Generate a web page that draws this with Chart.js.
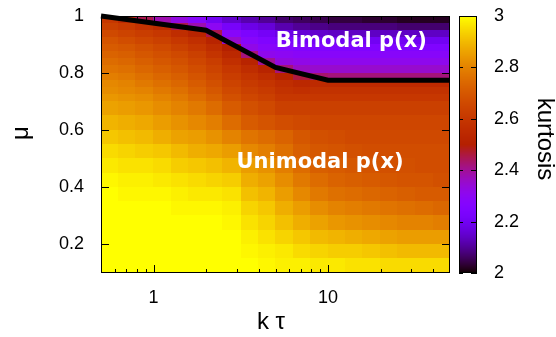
<!DOCTYPE html>
<html>
<head>
<meta charset="utf-8">
<script src="https://cdn.jsdelivr.net/npm/chart.js@4.4.1/dist/chart.umd.min.js"></script>
<style>
  html, body { margin: 0; padding: 0; background: #fff; }
</style>
</head>
<body>
<canvas id="kurtChart" width="556" height="337"></canvas>
<script>
// ----- data -----
// k*tau bin edges (log spaced, 20 columns)
const ktauEdges = [0.5, 0.63, 0.79, 1.0, 1.26, 1.58, 2.0, 2.5, 3.2, 4.0, 5.0,
                   6.3, 7.9, 10, 12.6, 15.8, 20, 25, 31.6, 40, 50];
// mu bin edges, top row first (24 rows)
const muEdges = [1.0, 0.975, 0.95, 0.925, 0.9, 0.875, 0.85, 0.825, 0.8, 0.775, 0.75,
                 0.725, 0.7, 0.65, 0.6, 0.55, 0.5, 0.45, 0.4, 0.35, 0.3, 0.25, 0.2, 0.15, 0.1];
// kurtosis, one row per mu bin (top first), one value per k*tau bin
const kurtosis = [
  [2.60, 2.55, 2.45, 2.38, 2.33, 2.28, 2.20, 2.15, 2.12, 2.10, 2.07, 2.06, 2.05, 2.04, 2.04, 2.03, 2.03, 2.02, 2.02, 2.02],
  [2.63, 2.61, 2.58, 2.55, 2.45, 2.38, 2.30, 2.22, 2.18, 2.16, 2.12, 2.10, 2.09, 2.08, 2.08, 2.08, 2.08, 2.07, 2.07, 2.07],
  [2.66, 2.64, 2.62, 2.60, 2.56, 2.52, 2.45, 2.28, 2.24, 2.21, 2.18, 2.16, 2.15, 2.14, 2.14, 2.14, 2.14, 2.14, 2.14, 2.14],
  [2.69, 2.67, 2.65, 2.63, 2.60, 2.57, 2.52, 2.35, 2.28, 2.25, 2.23, 2.21, 2.21, 2.20, 2.20, 2.20, 2.20, 2.20, 2.20, 2.20],
  [2.71, 2.70, 2.68, 2.66, 2.63, 2.60, 2.56, 2.50, 2.32, 2.28, 2.27, 2.26, 2.25, 2.25, 2.25, 2.25, 2.25, 2.25, 2.25, 2.25],
  [2.73, 2.72, 2.70, 2.68, 2.66, 2.63, 2.59, 2.54, 2.42, 2.31, 2.30, 2.29, 2.28, 2.28, 2.28, 2.28, 2.28, 2.28, 2.28, 2.28],
  [2.75, 2.74, 2.72, 2.70, 2.68, 2.65, 2.62, 2.57, 2.52, 2.40, 2.33, 2.32, 2.31, 2.31, 2.31, 2.31, 2.31, 2.31, 2.31, 2.31],
  [2.77, 2.76, 2.74, 2.72, 2.70, 2.67, 2.64, 2.60, 2.56, 2.52, 2.42, 2.36, 2.35, 2.35, 2.35, 2.35, 2.35, 2.35, 2.35, 2.35],
  [2.79, 2.78, 2.76, 2.74, 2.72, 2.69, 2.66, 2.62, 2.59, 2.56, 2.52, 2.46, 2.43, 2.42, 2.42, 2.42, 2.42, 2.42, 2.42, 2.42],
  [2.81, 2.80, 2.78, 2.76, 2.74, 2.71, 2.68, 2.64, 2.61, 2.59, 2.56, 2.54, 2.55, 2.55, 2.55, 2.55, 2.55, 2.55, 2.55, 2.55],
  [2.82, 2.81, 2.80, 2.78, 2.76, 2.73, 2.70, 2.66, 2.63, 2.61, 2.58, 2.57, 2.58, 2.58, 2.58, 2.58, 2.58, 2.58, 2.58, 2.58],
  [2.84, 2.83, 2.82, 2.80, 2.78, 2.75, 2.72, 2.68, 2.65, 2.63, 2.60, 2.60, 2.60, 2.60, 2.60, 2.60, 2.60, 2.60, 2.60, 2.60],
  [2.86, 2.85, 2.84, 2.82, 2.80, 2.78, 2.75, 2.71, 2.68, 2.66, 2.63, 2.63, 2.63, 2.63, 2.63, 2.63, 2.63, 2.63, 2.63, 2.63],
  [2.89, 2.88, 2.87, 2.85, 2.83, 2.81, 2.79, 2.75, 2.71, 2.69, 2.67, 2.66, 2.65, 2.65, 2.65, 2.65, 2.65, 2.65, 2.65, 2.65],
  [2.92, 2.91, 2.90, 2.88, 2.86, 2.85, 2.83, 2.80, 2.77, 2.75, 2.73, 2.70, 2.68, 2.67, 2.66, 2.66, 2.66, 2.66, 2.66, 2.66],
  [2.95, 2.94, 2.93, 2.92, 2.90, 2.88, 2.87, 2.85, 2.81, 2.79, 2.76, 2.72, 2.70, 2.69, 2.68, 2.67, 2.67, 2.67, 2.67, 2.67],
  [2.97, 2.96, 2.96, 2.95, 2.93, 2.92, 2.91, 2.89, 2.85, 2.83, 2.79, 2.75, 2.72, 2.71, 2.70, 2.69, 2.68, 2.68, 2.67, 2.67],
  [2.99, 2.98, 2.98, 2.97, 2.96, 2.95, 2.94, 2.93, 2.88, 2.86, 2.82, 2.78, 2.75, 2.73, 2.72, 2.71, 2.70, 2.69, 2.69, 2.68],
  [3.00, 2.99, 2.99, 2.99, 2.98, 2.97, 2.97, 2.96, 2.91, 2.89, 2.85, 2.81, 2.78, 2.76, 2.75, 2.74, 2.73, 2.72, 2.71, 2.71],
  [3.00, 3.00, 3.00, 3.00, 2.99, 2.99, 2.99, 2.98, 2.94, 2.92, 2.88, 2.85, 2.82, 2.80, 2.79, 2.78, 2.77, 2.76, 2.75, 2.74],
  [3.00, 3.00, 3.00, 3.00, 3.00, 3.00, 3.00, 2.99, 2.96, 2.94, 2.91, 2.88, 2.86, 2.84, 2.83, 2.82, 2.81, 2.80, 2.80, 2.79],
  [3.00, 3.00, 3.00, 3.00, 3.00, 3.00, 3.00, 3.00, 2.98, 2.96, 2.94, 2.92, 2.90, 2.89, 2.88, 2.87, 2.86, 2.85, 2.85, 2.85],
  [3.00, 3.00, 3.00, 3.00, 3.00, 3.00, 3.00, 3.00, 2.99, 2.98, 2.97, 2.95, 2.94, 2.93, 2.93, 2.92, 2.91, 2.90, 2.90, 2.90],
  [3.00, 3.00, 3.00, 3.00, 3.00, 3.00, 3.00, 3.00, 3.00, 2.99, 2.98, 2.98, 2.97, 2.97, 2.96, 2.96, 2.95, 2.95, 2.95, 2.95]
];

// bimodal / unimodal boundary
const boundaryKtau = [0.5, 2, 5, 10, 50];
const boundaryMu = [1.0, 0.95, 0.82, 0.775, 0.775];

// ticks
const xMajorTicks = [1, 10];
const xMinorTicks = [0.6, 0.7, 0.8, 0.9, 2, 3, 4, 5, 6, 7, 8, 9, 20, 30, 40];
const yTicks = [0.2, 0.4, 0.6, 0.8, 1];
const cbTicks = [2, 2.2, 2.4, 2.6, 2.8, 3];

// region labels (data coords)
const regionText = ["Bimodal p(x)", "Unimodal p(x)"];
const regionKtau = [13.6, 9.0];
const regionMu = [0.91, 0.486];

const TICK_FONT = { family: "Liberation Sans", size: 18 };
const TITLE_FONT = '24px "Liberation Sans"';

// gnuplot rgbformulae 7,5,15 (black-blue-violet-yellow)
function paletteColor(v) {
  let t = (v - 2) / (3 - 2);
  t = Math.max(0, Math.min(1, t));
  const r = Math.sqrt(t);
  const g = t * t * t;
  const b = Math.max(0, Math.sin(2 * Math.PI * t));
  return `rgb(${Math.round(r * 255)},${Math.round(g * 255)},${Math.round(b * 255)})`;
}

function fmt(v) {
  return Number.isInteger(v) ? String(v) : v.toFixed(1);
}

// keep the plot box fixed: no extra padding from tick labels
function fixBox(s, size) {
  if (s.isHorizontal()) s.height = size; else s.width = size;
  s.paddingTop = 0;
  s.paddingBottom = 0;
  s.paddingLeft = 0;
  s.paddingRight = 0;
}

// heatmap cells, drawn under the boundary line
const heatmapPlugin = {
  id: "heatmap",
  beforeDatasetsDraw(chart) {
    const { ctx, chartArea: a, scales: { x, y } } = chart;
    ctx.save();
    ctx.beginPath();
    ctx.rect(a.left, a.top, a.right - a.left, a.bottom - a.top);
    ctx.clip();
    for (let i = 0; i < kurtosis.length; i++) {
      const yTop = y.getPixelForValue(muEdges[i]);
      const yBot = y.getPixelForValue(muEdges[i + 1]);
      for (let j = 0; j < kurtosis[i].length; j++) {
        const xl = x.getPixelForValue(ktauEdges[j]);
        const xr = x.getPixelForValue(ktauEdges[j + 1]);
        ctx.fillStyle = paletteColor(kurtosis[i][j]);
        ctx.fillRect(Math.floor(xl), Math.floor(yTop),
                     Math.ceil(xr) - Math.floor(xl) + 1, Math.ceil(yBot) - Math.floor(yTop) + 1);
      }
    }
    ctx.restore();
  }
};

// frame, inward ticks, colorbar, labels, axis titles
const framePlugin = {
  id: "frame",
  afterDatasetsDraw(chart) {
    const { ctx, chartArea: a, scales: { x, y, cb } } = chart;
    ctx.save();

    // region labels
    ctx.fillStyle = "#fff";
    ctx.font = 'bold 21px "DejaVu Sans"';
    ctx.textAlign = "center";
    ctx.textBaseline = "middle";
    regionText.forEach((t, i) => {
      ctx.fillText(t, x.getPixelForValue(regionKtau[i]), y.getPixelForValue(regionMu[i]));
    });

    // plot border
    ctx.strokeStyle = "#000";
    ctx.lineWidth = 1;
    ctx.strokeRect(a.left + 0.5, a.top + 0.5, a.right - a.left - 1, a.bottom - a.top - 1);

    // x ticks (bottom + top)
    ctx.beginPath();
    xMajorTicks.concat(xMinorTicks).forEach(v => {
      const px = Math.round(x.getPixelForValue(v)) + 0.5;
      const len = xMajorTicks.includes(v) ? 8 : 4;
      ctx.moveTo(px, a.bottom);
      ctx.lineTo(px, a.bottom - len);
      ctx.moveTo(px, a.top);
      ctx.lineTo(px, a.top + len);
    });
    // y ticks (left + right)
    yTicks.forEach(v => {
      const py = Math.round(y.getPixelForValue(v)) + 0.5;
      ctx.moveTo(a.left, py);
      ctx.lineTo(a.left + 8, py);
      ctx.moveTo(a.right, py);
      ctx.lineTo(a.right - 8, py);
    });
    ctx.stroke();

    // colorbar
    const cbL = a.right + 9, cbR = a.right + 27;
    const cbTop = Math.round(cb.getPixelForValue(3));
    const cbBot = Math.round(cb.getPixelForValue(2));
    for (let py = cbTop; py < cbBot; py++) {
      ctx.fillStyle = paletteColor(cb.getValueForPixel(py + 0.5));
      ctx.fillRect(cbL, py, cbR - cbL, 1);
    }
    ctx.strokeRect(cbL + 0.5, cbTop + 0.5, cbR - cbL - 1, cbBot - cbTop - 1);
    ctx.beginPath();
    cbTicks.forEach(v => {
      const py = Math.round(cb.getPixelForValue(v)) + 0.5;
      ctx.moveTo(cbL, py);
      ctx.lineTo(cbL + 4, py);
      ctx.moveTo(cbR, py);
      ctx.lineTo(cbR - 6, py);
    });
    ctx.stroke();

    // axis titles
    ctx.fillStyle = "#000";
    ctx.font = TITLE_FONT;
    ctx.textAlign = "center";
    ctx.textBaseline = "middle";
    ctx.fillText("k \u03c4", 271, 322);

    ctx.save();
    ctx.translate(21, 133);
    ctx.rotate(-Math.PI / 2);
    ctx.fillText("\u03bc", 0, 0);
    ctx.restore();

    ctx.save();
    ctx.translate(545, 139);
    ctx.rotate(Math.PI / 2);
    ctx.fillText("kurtosis", 0, 0);
    ctx.restore();

    ctx.restore();
  }
};

const ctx = document.getElementById("kurtChart").getContext("2d");

new Chart(ctx, {
  type: "scatter",
  data: {
    datasets: [{
      data: boundaryKtau.map((k, i) => ({ x: k, y: boundaryMu[i] })),
      showLine: true,
      borderColor: "#000",
      borderWidth: 5,
      pointRadius: 0,
      clip: false
    }]
  },
  options: {
    responsive: false,
    animation: false,
    devicePixelRatio: 1,
    layout: { padding: { top: 16 } },
    plugins: {
      legend: { display: false },
      tooltip: { enabled: false }
    },
    scales: {
      x: {
        type: "logarithmic",
        position: "bottom",
        min: 0.5,
        max: 50,
        grid: { display: false, drawTicks: false },
        border: { display: false },
        afterFit: s => fixBox(s, 64),
        afterBuildTicks: s => {
          s.ticks = xMajorTicks.concat(xMinorTicks).sort((p, q) => p - q).map(v => ({ value: v }));
        },
        ticks: {
          autoSkip: false,
          maxRotation: 0,
          padding: 14,
          color: "#000",
          font: TICK_FONT,
          callback: v => xMajorTicks.includes(v) ? String(v) : ""
        }
      },
      y: {
        type: "linear",
        position: "left",
        min: 0.1,
        max: 1.0,
        grid: { display: false, drawTicks: false },
        border: { display: false },
        afterFit: s => fixBox(s, 101),
        afterBuildTicks: s => { s.ticks = yTicks.map(v => ({ value: v })); },
        ticks: {
          padding: 17,
          color: "#000",
          font: TICK_FONT,
          callback: v => fmt(v)
        }
      },
      cb: {
        type: "linear",
        position: "right",
        min: 2,
        max: 3,
        grid: { display: false, drawTicks: false },
        border: { display: false },
        afterFit: s => fixBox(s, 106),
        afterBuildTicks: s => { s.ticks = cbTicks.map(v => ({ value: v })); },
        ticks: {
          padding: 44,
          color: "#000",
          font: TICK_FONT,
          callback: v => fmt(v)
        }
      }
    }
  },
  plugins: [heatmapPlugin, framePlugin]
});
</script>
</body>
</html>
